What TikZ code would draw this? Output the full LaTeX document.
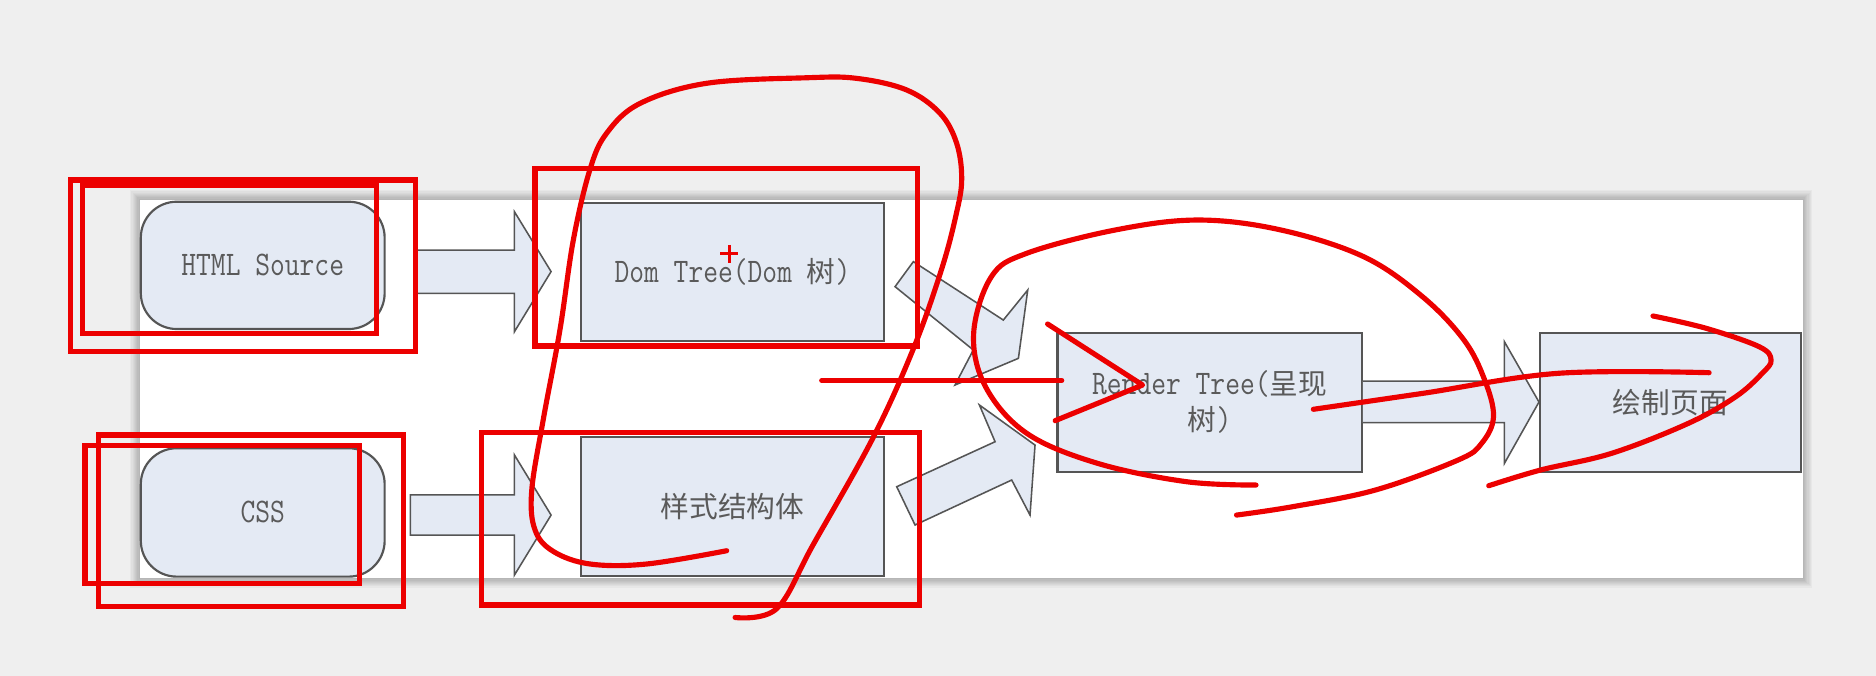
\documentclass[tikz,border=0pt]{standalone}
\usepackage{graphicx}
\usepackage{fontspec}
\newfontfamily\cjk{Noto Sans CJK SC}
\newcommand\lat[1]{\scalebox{1}[1.2]{#1}}
\definecolor{bg}{HTML}{EFEFEF}
\definecolor{boxfill}{HTML}{E4EAF4}
\definecolor{boxline}{HTML}{555555}
\definecolor{txt}{HTML}{5A5A5A}
\definecolor{ink}{RGB}{236,0,0}
\begin{document}
\begin{tikzpicture}[x=1pt,y=-1pt,
  box/.style={draw=boxline, line width=1.8pt, fill=boxfill, inner sep=0pt,
    text=txt, font=\ttfamily\fontsize{24}{30}\selectfont, align=center},
  rbox/.style={box, rounded corners=30pt},
  barrow/.style={draw=boxline, fill=boxfill, line width=1.3pt, line join=miter},
  ink/.style={draw=ink, line width=4.3pt, line cap=round, line join=round},
  inkrect/.style={draw=ink, line width=4.3pt, line join=miter}]
% background
\fill[bg] (0,0) rectangle (1568,565);
\useasboundingbox (0,0) rectangle (1568,565);
% panel shadow
\foreach \i in {1,...,8}
  \fill[black,opacity=0.03] (116.8-\i,167-\i) rectangle (1506.7+\i,483.2+\i);
\fill[white] (116.8,167) rectangle (1506.7,483.2);

% nodes
\node[rbox, minimum width=203.8pt, minimum height=106.4pt] (html) at (219.6,221.8) {\lat{HTML Source}};
\node[rbox, minimum width=203.8pt, minimum height=107.3pt] (css) at (219.6,428.3) {\lat{CSS}};
\node[box, minimum width=253.3pt, minimum height=114.9pt] (dom) at (612.2,227.3) {\lat{Dom Tree(Dom} {\cjk 树}\lat{)}};
\node[box, minimum width=253.3pt, minimum height=115.9pt] (style) at (612.2,423.2) {{\cjk 样式结构体}};
\node[box, minimum width=254.3pt, minimum height=116.2pt] (render) at (1011,336.1) {\lat{Render Tree(}{\cjk 呈现}\\{\cjk 树}\lat{)}};
\node[box, minimum width=217.8pt, minimum height=116.2pt] (paint) at (1396.1,336.1) {{\cjk 绘制页面}};

% block arrows
\draw[barrow] (347,209) -- (430,209) -- (430,177) -- (460.6,227) -- (430,277.2) -- (430,245.2) -- (347,245.2) -- cycle;
\draw[barrow] (343,413.7) -- (430,413.7) -- (430,380.3) -- (460.6,430.5) -- (430,480.6) -- (430,447.2) -- (343,447.2) -- cycle;
\draw[barrow] (763.4,218.7) -- (838.6,267.5) -- (859,242.4) -- (851.2,299.5) -- (798.2,321.8) -- (813.5,292.5) -- (748.1,239.6) -- cycle;
\draw[barrow] (749.5,406.8) -- (831.7,369.2) -- (818.6,338.5) -- (865.1,372) -- (860.9,430.5) -- (845.6,401.2) -- (764.8,438.8) -- cycle;
\draw[barrow] (render.east |- 0,318.5) -- (1257.4,318.5) -- (1257.4,285.6) -- (paint.west |- 0,336) -- (1257.4,387.3) -- (1257.4,353.3) -- (render.east |- 0,353.3);

% red annotations
\draw[inkrect] (59.2,150.5) rectangle (347,294);
\draw[inkrect] (68.8,154.6) rectangle (315,278.6);
\draw[inkrect] (82.5,363.6) rectangle (337.5,507);
\draw[inkrect] (71,372) rectangle (300.7,487.6);
\draw[inkrect] (447.2,140.9) rectangle (766.7,289.2);
\draw[inkrect] (402.6,361.8) rectangle (768.4,505.7);
\draw[draw=ink, line width=2.5pt] (602,212.2) -- (617.2,212.2) (609.6,204.6) -- (609.6,219.8);
\draw[ink] (686.8,318) -- (887.4,318);
\draw[ink] plot[smooth, tension=0.6] coordinates {(614.4,516.1) (649.2,508.7) (679.8,455) (730,365.3) (764,290) (787,225) (799,180) (803.8,150) (799.6,119.8) (785.7,94.7) (757.8,75.2) (716,65.5) (674,65) (590.7,69.6) (535,86.4) (507,111.4) (493,142) (479.2,200.6) (468,275.8) (454.1,350.5) (444.4,410.2) (447.2,443) (462.5,460.9) (493.2,471.4) (540.5,471.4) (607.4,460.3)};
\draw[ink] plot[smooth, tension=0.6] coordinates {(1049.8,405.4) (991.6,402.6) (917.5,387.3) (858.2,362.2) (823.7,323.2) (813.8,278.6) (828.6,231.3) (858.2,211.7) (932.3,192.2) (1001.4,183.9) (1070.5,192.2) (1139.7,214.5) (1189,248) (1223.6,284.2) (1240.9,317.6) (1248.3,348.3) (1238.4,370.5) (1218.7,384.5) (1149.5,409.6) (1080.4,423.5) (1033.5,430.5)};
\draw[ink] (875.6,270.8) -- (955,321.8) -- (881.9,351.6);
\draw[ink] plot[smooth, tension=0.6] coordinates {(1097.7,342.1) (1189,328.8) (1302.6,312) (1428.5,311.5)};
\draw[ink] plot[smooth, tension=0.6] coordinates {(1381.6,264.1) (1426,274.4) (1470.4,289.8) (1480.3,300.9) (1472.9,312) (1450.7,331.6) (1411.2,353.8) (1347,378.9) (1287.8,392.8) (1244.3,406)};
\end{tikzpicture}
\end{document}
